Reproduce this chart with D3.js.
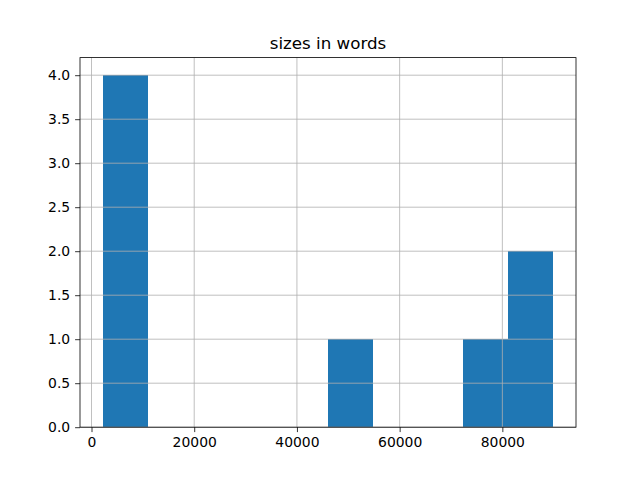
<!DOCTYPE html>
<html>
<head>
<meta charset="utf-8">
<script src="https://cdn.jsdelivr.net/npm/d3@7"></script>
<style>
  body { margin: 0; background: #fff; }
  text { font-family: "DejaVu Sans", sans-serif; }
</style>
</head>
<body>
<div id="graph"></div>
<script>
// histogram of document sizes (words), 10 bins between min and max
var sizeMin = 2150
var sizeMax = 89950
var counts = [4, 0, 0, 0, 0, 1, 0, 0, 1, 2]
var xTicks = [0, 20000, 40000, 60000, 80000]
var yTicks = [0, 0.5, 1, 1.5, 2, 2.5, 3, 3.5, 4]

var width = 640, height = 480
var margin = {left: 80, right: 64, top: 57.6, bottom: 52.8}

var svg = d3.select('#graph').append('svg')
  .attr('width', width).attr('height', height)

var binW = (sizeMax - sizeMin) / counts.length
var bins = counts.map((c, i) => ({x0: sizeMin + i*binW, x1: sizeMin + (i + 1)*binW, n: c}))

var pad = (sizeMax - sizeMin)*0.05
var x = d3.scaleLinear()
  .domain([sizeMin - pad, sizeMax + pad])
  .range([margin.left, width - margin.right])

var y = d3.scaleLinear()
  .domain([0, d3.max(counts)*1.05])
  .range([height - margin.bottom, margin.top])

svg.append('g').attr('shape-rendering', 'crispEdges').selectAll('rect')
  .data(bins.filter(d => d.n > 0))
  .join('rect')
  .attr('x', d => x(d.x0))
  .attr('width', d => x(d.x1) - x(d.x0))
  .attr('y', d => y(d.n))
  .attr('height', d => y(0) - y(d.n))
  .attr('fill', '#1f77b4')

// grid on top of bars, like pandas .hist()
var grid = svg.append('g').attr('stroke', '#b0b0b0').attr('stroke-width', 0.8)
grid.selectAll('.gx').data(xTicks).join('line')
  .attr('x1', d => x(d)).attr('x2', d => x(d))
  .attr('y1', y.range()[0]).attr('y2', y.range()[1])
grid.selectAll('.gy').data(yTicks).join('line')
  .attr('y1', d => y(d)).attr('y2', d => y(d))
  .attr('x1', x.range()[0]).attr('x2', x.range()[1])

var xAxis = svg.append('g')
  .attr('transform', `translate(0,${height - margin.bottom})`)
  .call(d3.axisBottom(x).tickValues(xTicks).tickFormat(d3.format('d')).tickSize(4.9).tickPadding(4.9))
var yAxis = svg.append('g')
  .attr('transform', `translate(${margin.left},0)`)
  .call(d3.axisLeft(y).tickValues(yTicks).tickFormat(d3.format('.1f')).tickSize(4.9).tickPadding(4.9))

;[xAxis, yAxis].forEach(a => {
  a.select('.domain').remove()
  a.selectAll('text').attr('font-size', 13.9).attr('font-family', 'DejaVu Sans').attr('fill', '#000')
  a.selectAll('line').attr('stroke', '#000').attr('stroke-width', 0.8)
})

svg.append('rect')
  .attr('x', x.range()[0]).attr('y', y.range()[1])
  .attr('width', x.range()[1] - x.range()[0])
  .attr('height', y.range()[0] - y.range()[1])
  .attr('fill', 'none').attr('stroke', '#000').attr('stroke-width', 0.8)

svg.append('text')
  .attr('x', (x.range()[0] + x.range()[1]) / 2)
  .attr('y', margin.top - 8.3)
  .attr('text-anchor', 'middle')
  .attr('font-size', 16.7)
  .text('sizes in words')
</script>
</body>
</html>
